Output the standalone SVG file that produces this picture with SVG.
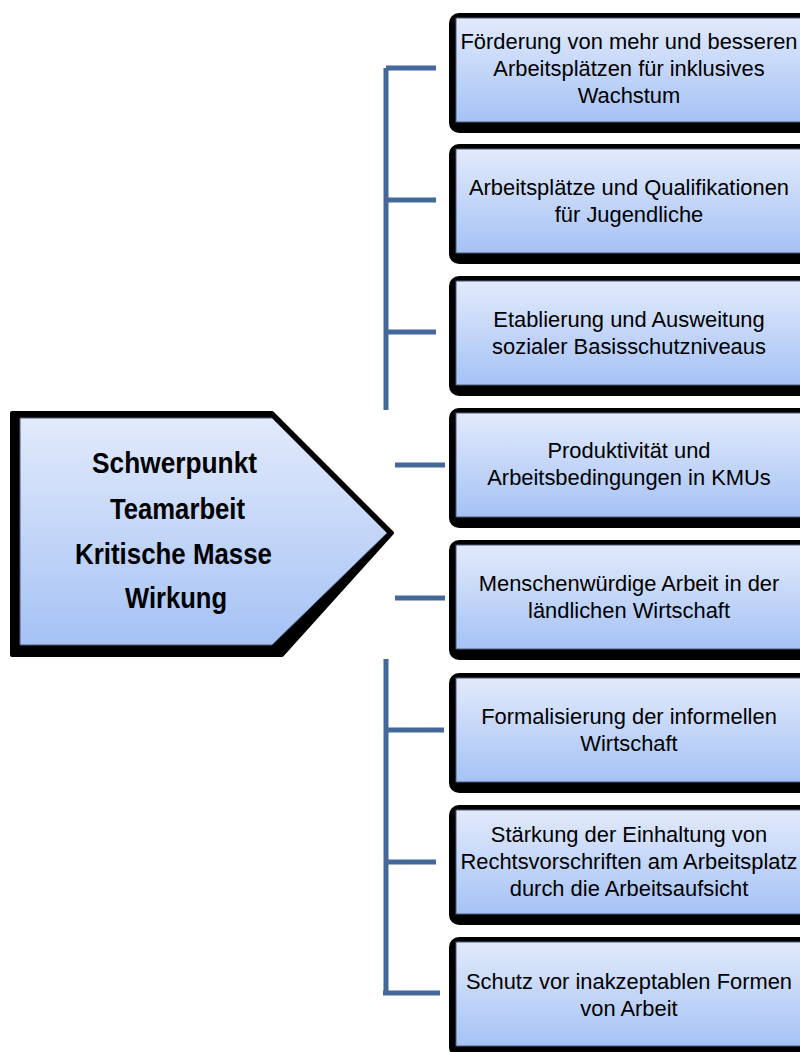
<svg xmlns="http://www.w3.org/2000/svg" width="800" height="1052" viewBox="0 0 800 1052">
<defs>
<linearGradient id="g" x1="0" y1="0" x2="0" y2="1">
<stop offset="0" stop-color="#e2eafb"/>
<stop offset="1" stop-color="#a5c2f5"/>
</linearGradient>
<style>
.sh{fill:#000;}
.bx{fill:url(#g);stroke:#4d5a78;stroke-width:1;}
.t{font-family:"Liberation Sans",Arial,sans-serif;font-size:21.9px;fill:#000;text-anchor:middle;}
.tb{font-family:"Liberation Sans",Arial,sans-serif;font-size:30px;font-weight:bold;fill:#000;text-anchor:middle;}
.c{stroke:#44689a;stroke-width:5;fill:none;}
</style>
</defs>
<rect width="800" height="1052" fill="#fff"/>
<g id="connectors">
<path class="c" d="M386 68V410M386 68H436M386 200H436M386 332H436"/>
<path class="c" d="M395 465H445M395 598H445"/>
<path class="c" d="M386 659V993M386 730H444M386 862H436M383 993H440"/>
</g>
<g id="main">
<polygon class="sh" points="12,413 272,413 392,533 282,655 12,655" stroke="#000" stroke-width="4" stroke-linejoin="round"/>
<polygon class="bx" points="20,418 272,418 387,533 272,645 20,645"/>
<text class="tb" x="174.5" y="473" textLength="165" lengthAdjust="spacingAndGlyphs">Schwerpunkt</text>
<text class="tb" x="177.5" y="519" textLength="135" lengthAdjust="spacingAndGlyphs">Teamarbeit</text>
<text class="tb" x="173.5" y="564" textLength="197" lengthAdjust="spacingAndGlyphs">Kritische Masse</text>
<text class="tb" x="176" y="608" textLength="102" lengthAdjust="spacingAndGlyphs">Wirkung</text>
</g>
<g id="n1">
<rect class="sh" x="449" y="13" width="370" height="120" rx="10"/>
<rect class="bx" x="456" y="18" width="360" height="104"/>
<text class="t" x="629" y="49">Förderung von mehr und besseren</text>
<text class="t" x="629" y="76">Arbeitsplätzen für inklusives</text>
<text class="t" x="629" y="103">Wachstum</text>
</g>
<g id="n2">
<rect class="sh" x="449" y="144" width="370" height="120" rx="10"/>
<rect class="bx" x="456" y="149" width="360" height="104"/>
<text class="t" x="629" y="195">Arbeitsplätze und Qualifikationen</text>
<text class="t" x="629" y="222">für Jugendliche</text>
</g>
<g id="n3">
<rect class="sh" x="449" y="276" width="370" height="120" rx="10"/>
<rect class="bx" x="456" y="281" width="360" height="104"/>
<text class="t" x="629" y="327">Etablierung und Ausweitung</text>
<text class="t" x="629" y="354">sozialer Basisschutzniveaus</text>
</g>
<g id="n4">
<rect class="sh" x="449" y="408" width="370" height="120" rx="10"/>
<rect class="bx" x="456" y="413" width="360" height="104"/>
<text class="t" x="629" y="458">Produktivität und</text>
<text class="t" x="629" y="485">Arbeitsbedingungen in KMUs</text>
</g>
<g id="n5">
<rect class="sh" x="449" y="540" width="370" height="120" rx="10"/>
<rect class="bx" x="456" y="545" width="360" height="104"/>
<text class="t" x="629" y="591">Menschenwürdige Arbeit in der</text>
<text class="t" x="629" y="618">ländlichen Wirtschaft</text>
</g>
<g id="n6">
<rect class="sh" x="449" y="673" width="370" height="120" rx="10"/>
<rect class="bx" x="456" y="678" width="360" height="104"/>
<text class="t" x="629" y="724">Formalisierung der informellen</text>
<text class="t" x="629" y="751">Wirtschaft</text>
</g>
<g id="n7">
<rect class="sh" x="449" y="805" width="370" height="120" rx="10"/>
<rect class="bx" x="456" y="810" width="360" height="104"/>
<text class="t" x="629" y="842">Stärkung der Einhaltung von</text>
<text class="t" x="629" y="869">Rechtsvorschriften am Arbeitsplatz</text>
<text class="t" x="629" y="896">durch die Arbeitsaufsicht</text>
</g>
<g id="n8">
<rect class="sh" x="449" y="937" width="370" height="120" rx="10"/>
<rect class="bx" x="456" y="942" width="360" height="104"/>
<text class="t" x="629" y="989">Schutz vor inakzeptablen Formen</text>
<text class="t" x="629" y="1016">von Arbeit</text>
</g>
</svg>
